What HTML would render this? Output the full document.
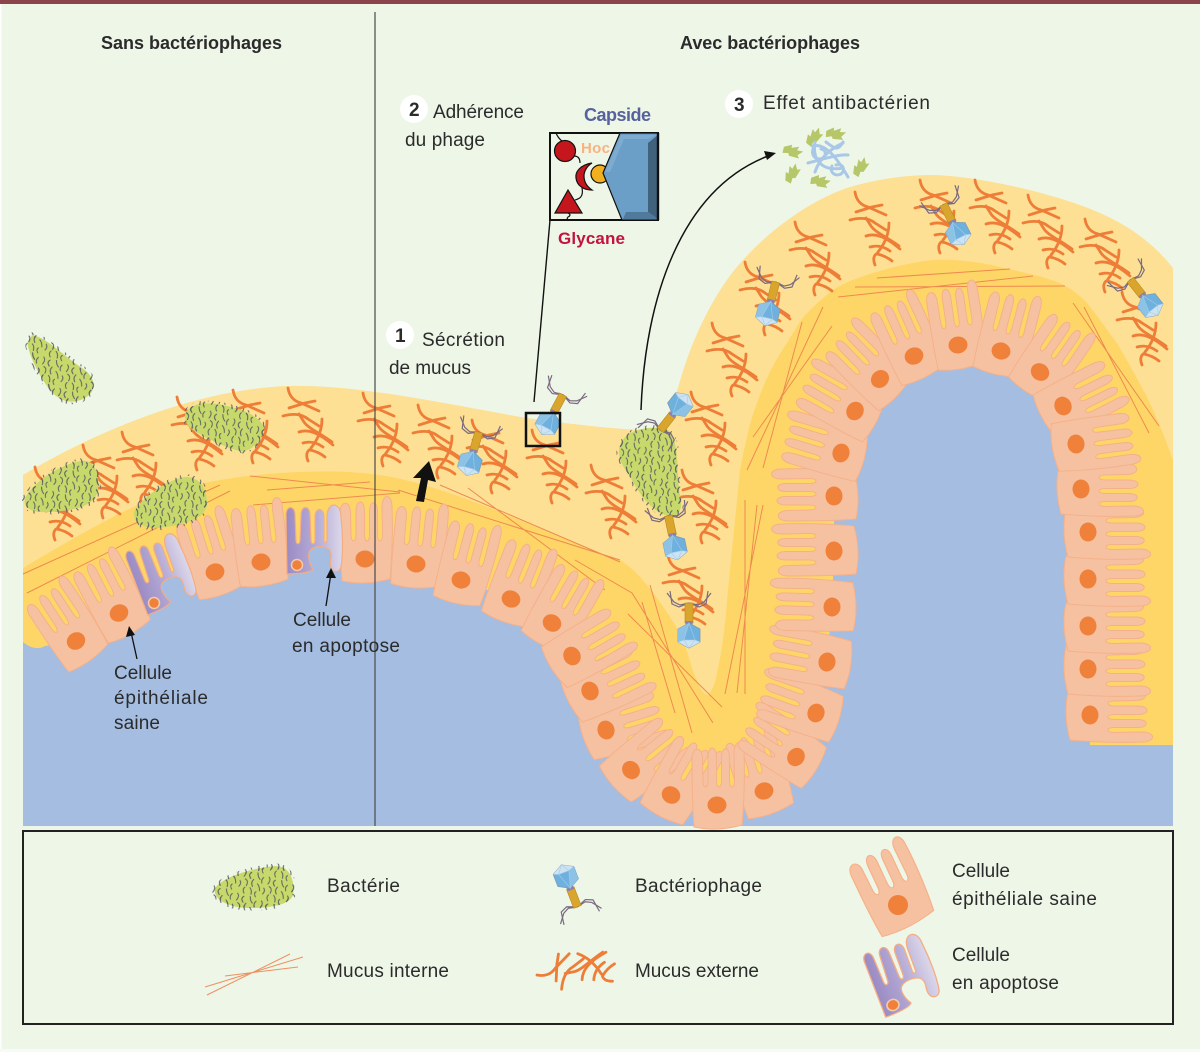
<!DOCTYPE html>
<html lang="fr">
<head>
<meta charset="utf-8">
<title>Bactériophages et mucus</title>
<style>
html,body{margin:0;padding:0;background:#eef6e8}
svg{display:block}
text{font-family:"Liberation Sans",sans-serif;fill:#2b2b2b;font-size:19px}
.b{font-weight:bold;font-size:18px}
</style>
</head>
<body>
<svg width="1200" height="1052" viewBox="0 0 1200 1052" xmlns="http://www.w3.org/2000/svg">
<defs>
  <linearGradient id="apo" x1="0" x2="1" y1="0" y2="0">
    <stop offset="0" stop-color="#9a8bc4"/><stop offset=".55" stop-color="#b6acd6"/><stop offset="1" stop-color="#dcd8ea"/>
  </linearGradient>
  <pattern id="hair" width="25" height="25" patternUnits="userSpaceOnUse" patternTransform="rotate(18)">
    <g fill="none" stroke="#5a5f5e" stroke-width="1" stroke-linecap="round">
      <path d="M2 1q3 2 1 7"/><path d="M9 2q-3 3 1 6"/><path d="M15 0q1 4 4 6"/><path d="M22 3q-2 3 0 6"/>
      <path d="M5 10q4 1 3 6"/><path d="M13 8q-2 4 1 7"/><path d="M18 11q3 2 4 6"/><path d="M0 13q3 2 1 6"/>
      <path d="M7 18q-2 3 1 6"/><path d="M12 17q3 2 3 6"/><path d="M19 19q-2 2 1 5"/>
    </g>
  </pattern>
  <path id="cellp" d="M-23 22C-25 0-25-30-25-46C-25-59-14.500-59-14.500-46L-14-24C-14-16-9-16-9-24L-9-48C-9-60-.5-60-.5-48L-.5-24C-.5-16 4.500-16 4.500-24L4.500-48C4.500-59 12.500-59 12.500-48L12.500-24C12.500-16 17.500-16 17.500-24L17-52C17-66 27-66 27-52C28-30 27 0 25 20Q0 27-23 22Z" fill="#f6c1a1" stroke="#f5b189" stroke-width="1"/>
  <g id="cell">
    <use href="#cellp"/>
    <ellipse rx="9.500" ry="8.500" fill="#ef813b"/>
  </g>
  <g id="apop">
    <path d="M-10 9L-11-50C-11-60-2-60-2-50L-1-25C-1-20 3-20 3-25L4-50C4-60 13-60 13-50L14-25C14-20 18-20 18-25L18-48C18-58 27-58 27-48L27-25C27-22 30-22 30-25L30-48C30-64 44-64 44-48C46-30 46-10 44 2C42 8 36 8 34 2C32-4 36-8 33-14C30-20 14-20 12-12C11-8 13 0 16 4C14 8 0 9-10 9Z" fill="url(#apo)" stroke="#f4ad82" stroke-width="1.200"/>
    <circle r="5.500" fill="#ef813b" stroke="#f6c9a8" stroke-width="1.500"/>
  </g>
  <g id="muc" fill="none" stroke="#ee7d38" stroke-width="2.800" stroke-linecap="round">
    <path d="M0 0C1 7 5 13 13 15L31 23"/>
    <path d="M1 20L17 15L27 13"/>
    <path d="M-5 28C6 25 14 26 20 31L31 38"/>
    <path d="M11 26L16 34C20 40 30 44 44 54"/>
    <path d="M34 31C34 40 31 50 23 60"/>
    <path d="M11 44C20 41 30 44 45 57"/>
    <path d="M15 55C22 53 28 54 35 59"/>
    <path d="M23 61C18 63 18 68 20 73"/>
    <path d="M22 62C27 63 32 65 37 69"/>
  </g>
  <g id="phage">
    <g fill="none" stroke="#7a6a80" stroke-width="1.200">
      <path d="M0-32L-10-28L-17-31L-19-44"/><path d="M0-32L-9-30L-15-33L-22-42"/>
      <path d="M0-32L10-28L17-31L19-44"/><path d="M0-32L9-30L15-33L22-42"/>
    </g>
    <rect x="-4" y="-32" width="8" height="20" fill="#d9a52c" stroke="#b88a22" stroke-width=".6"/>
    <rect x="-3.500" y="-14" width="7" height="4" fill="#8f7fb0"/>
    <polygon points="0,-12 11,-6 11,7 0,13 -11,7 -11,-6" fill="#6fb1de" stroke="#7c9cb6" stroke-width=".8"/>
    <polygon points="0,-12 -11,-6 -11,7 -5,5" fill="#8cc2e6"/>
    <polygon points="-5,5 6,5 11,7 0,13 -11,7" fill="#cde3f3"/>
    <path d="M0-12L-5 5L6 5ZM-5 5L-11 7M6 5L11 7M0 13L-5 5M0 13L6 5" fill="none" stroke="#a5cbe6" stroke-width=".6"/>
  </g>
  <g id="shard"><path d="M0 2L6-4L7-1L13-6L13-2L19-4L16 2L19 4L9 7L7 5L2 8Z" fill="#b5c768"/></g>
</defs>

<rect width="1200" height="1052" fill="#eef6e8"/>
<rect width="1200" height="4" fill="#8b444b"/>
<rect x="0" y="4" width="1.500" height="1048" fill="#fff"/>
<rect x="0" y="1049" width="1200" height="3" fill="#f8fbf5"/>

<!-- Outer mucus -->
<path fill="#fde094" d="M23 475C90 435 190 390 287 386C360 384 450 405 527 418C570 424 620 430 650 430C670 425 675 395 685 365C695 335 715 290 743 260C770 230 810 200 850 187C880 178 910 175 933 175C980 176 1060 195 1100 213C1130 226 1155 245 1173 268L1173 826L23 826Z"/>
<!-- Inner mucus -->
<path fill="#fed668" d="M23 568C70 540 130 505 167 493C200 481 250 474 300 472C340 470 380 472 420 484C480 500 550 535 620 560C640 572 660 600 680 633C688 650 692 672 697 680C700 690 705 695 708 695C713 690 716 680 717 673C722 650 726 620 727 600L731 560L740 470C745 445 750 420 757 403C765 380 775 360 787 343C795 330 800 320 807 313C815 305 825 296 833 290C845 282 860 277 873 273C895 266 915 262 933 260C955 259 980 262 1000 267C1020 272 1040 275 1060 283C1070 288 1080 295 1087 303C1097 315 1107 330 1117 343C1127 360 1137 378 1147 397C1157 418 1166 440 1173 460L1173 826L23 826Z"/>

<!-- Blue lumen -->
<path fill="#a4bde1" d="M23 642C30 648 38 650 45 646L76 641L119 613L154 600L215 572L261 562L297 562L365 559L416 564L461 580L511 599L552 623L571 655L590 691L606 729L630 770L671 795L717 805L764 791L795 757L816 712L826 662L832 612L834 551L834 496L841 452L855 411L880 379L914 356L958 345L1001 351L1040 372L1063 406L1076 444L1081 489L1088 532L1088 579L1088 626L1088 669L1090 715L1090 745L1173 745L1173 826L23 826Z"/>
<rect x="10" y="-18" width="30" height="30" fill="#a4bde1" transform="translate(154 603) rotate(-20)"/>
<rect x="10" y="-18" width="30" height="30" fill="#a4bde1" transform="translate(297 565)"/>

<!-- Internal mucus lines -->
<g stroke="#ee8a4f" stroke-width="1" fill="none">
  <path d="M23 574L220 485M27 593L230 491M250 476L400 492M267 490L370 482M253 505L400 493"/>
  <path d="M398 490L620 560M440 485L620 562M468 488L605 590"/>
  <path d="M575 560L632 593L713 723M650 585L692 733M642 602L675 713M628 614L722 707"/>
  <path d="M763 505L725 694M757 505L737 693M745 500L745 694"/>
  <path d="M877 278L1010 269M855 287L1065 286M838 297L1033 276M802 322L763 468M823 307L747 470M832 326L753 437M1073 303L1159 426M1084 307L1149 433"/>
</g>

<!-- Cells -->
<g>
  <use href="#cell" transform="translate(76 641) rotate(-33)"/>
  <use href="#cell" transform="translate(119 613) rotate(-27)"/>
  <use href="#cell" transform="translate(215 572) rotate(-17)"/>
  <use href="#cell" transform="translate(261 562) rotate(-6)"/>
  <use href="#cell" transform="translate(365 559)"/>
  <use href="#cell" transform="translate(416 564) rotate(6)"/>
  <use href="#cell" transform="translate(461 580) rotate(15)"/>
  <use href="#cell" transform="translate(511 599) rotate(22)"/>
  <use href="#cell" transform="translate(552 623) rotate(30)"/>
  <use href="#cell" transform="translate(606 730) rotate(73)"/>
  <use href="#cell" transform="translate(631 770) rotate(51)"/>
  <use href="#cell" transform="translate(671 795) rotate(30)"/>
  <use href="#cell" transform="translate(764 791) rotate(-17)"/>
  <use href="#cell" transform="translate(717 805)"/>
  <use href="#cell" transform="translate(796 757) rotate(-56)"/>
  <use href="#cell" transform="translate(816 713) rotate(-70)"/>
  <use href="#cell" transform="translate(827 662) rotate(-79)"/>
  <use href="#cell" transform="translate(832 607) rotate(-88)"/>
  <use href="#cell" transform="translate(834 551) rotate(-90)"/>
  <use href="#cell" transform="translate(834 496) rotate(-90)"/>
  <use href="#cell" transform="translate(841 453) rotate(-73)"/>
  <use href="#cell" transform="translate(855 411) rotate(-60)"/>
  <use href="#cell" transform="translate(880 379) rotate(-44)"/>
  <use href="#cell" transform="translate(914 356) rotate(-24)"/>
  <use href="#cell" transform="translate(958 345) rotate(-8)"/>
  <use href="#cell" transform="translate(1001 351) rotate(15)"/>
  <use href="#cell" transform="translate(1040 372) rotate(35)"/>
  <use href="#cell" transform="translate(1063 406) rotate(64)"/>
  <use href="#cell" transform="translate(1090 715) rotate(90)"/>
  <use href="#cell" transform="translate(1088 669) rotate(90)"/>
  <use href="#cell" transform="translate(1088 626) rotate(90)"/>
  <use href="#cell" transform="translate(1088 579) rotate(90)"/>
  <use href="#cell" transform="translate(1088 532) rotate(90)"/>
  <use href="#cell" transform="translate(1081 489) rotate(90)"/>
  <use href="#cell" transform="translate(1076 444) rotate(83)"/>
  <use href="#cell" transform="translate(590 691) rotate(65)"/>
  <use href="#cell" transform="translate(572 656) rotate(60)"/>
  <use href="#apop" transform="translate(154 603) rotate(-20)"/>
  <use href="#apop" transform="translate(297 565)"/>
</g>

<!-- External mucus -->
<g>
  <use href="#muc" x="35" y="467"/><use href="#muc" x="83" y="445"/><use href="#muc" x="122" y="432"/>
  <use href="#muc" x="177" y="397"/><use href="#muc" x="233" y="390"/><use href="#muc" x="288" y="388"/>
  <use href="#muc" x="363" y="393"/><use href="#muc" x="418" y="405"/><use href="#muc" x="472" y="420"/>
  <use href="#muc" x="532" y="430"/><use href="#muc" x="591" y="465"/><use href="#muc" x="682" y="470"/>
  <use href="#muc" x="668" y="555"/><use href="#muc" x="691" y="392"/><use href="#muc" x="712" y="323"/>
  <use href="#muc" x="745" y="262"/><use href="#muc" x="795" y="222"/><use href="#muc" x="855" y="192"/>
  <use href="#muc" x="920" y="180"/><use href="#muc" x="975" y="180"/><use href="#muc" x="1028" y="195"/>
  <use href="#muc" x="1085" y="219"/><use href="#muc" x="1122" y="292"/>
</g>

<!-- Bacteria -->
<g fill="#c8d96c">
  <path d="M32 335C48 338 62 355 85 370C97 380 96 392 85 398C72 405 60 402 50 390C40 378 26 350 28 342Z"/>
  <path d="M186 412C195 400 215 402 235 408C250 412 262 420 264 428C262 440 252 452 240 451C225 448 200 435 190 428C185 422 184 416 186 412Z"/>
  <path d="M25 498C35 480 60 465 80 461C95 458 100 475 98 490C95 505 80 510 50 512C35 513 22 510 25 498Z"/>
  <path d="M134 512C140 500 165 480 185 477C200 476 208 490 207 505C205 518 185 525 165 527C148 530 132 525 134 512Z"/>
  <path d="M620 445C625 430 650 424 668 430C680 440 676 470 680 495C684 510 678 518 668 516C652 512 640 495 632 480C624 468 616 458 620 445Z"/>
  <path d="M215 888C225 875 255 868 275 866C290 866 295 880 293 895C290 905 270 908 250 908C230 908 212 900 215 888Z"/>
</g>
<g fill="url(#hair)" stroke="url(#hair)" stroke-width="5">
  <path d="M32 335C48 338 62 355 85 370C97 380 96 392 85 398C72 405 60 402 50 390C40 378 26 350 28 342Z"/>
  <path d="M186 412C195 400 215 402 235 408C250 412 262 420 264 428C262 440 252 452 240 451C225 448 200 435 190 428C185 422 184 416 186 412Z"/>
  <path d="M25 498C35 480 60 465 80 461C95 458 100 475 98 490C95 505 80 510 50 512C35 513 22 510 25 498Z"/>
  <path d="M134 512C140 500 165 480 185 477C200 476 208 490 207 505C205 518 185 525 165 527C148 530 132 525 134 512Z"/>
  <path d="M620 445C625 430 650 424 668 430C680 440 676 470 680 495C684 510 678 518 668 516C652 512 640 495 632 480C624 468 616 458 620 445Z"/>
  <path d="M215 888C225 875 255 868 275 866C290 866 295 880 293 895C290 905 270 908 250 908C230 908 212 900 215 888Z"/>
</g>

<!-- Phages -->
<use href="#phage" transform="translate(470 463) rotate(16)"/>
<use href="#phage" transform="translate(548 423) rotate(28)"/>
<use href="#phage" transform="translate(680 405) rotate(-142)"/>
<use href="#phage" transform="translate(675 547) rotate(-12)"/>
<use href="#phage" transform="translate(689 635)"/>
<use href="#phage" transform="translate(768 313) rotate(14)"/>
<use href="#phage" transform="translate(958 233) rotate(-27)"/>
<use href="#phage" transform="translate(1150 305) rotate(-38)"/>
<use href="#phage" transform="translate(566 877) rotate(159)"/>

<!-- Divider -->
<line x1="375" y1="12" x2="375" y2="826" stroke="#4a4a4a" stroke-width="1.200"/>

<!-- Inset -->
<rect x="550" y="133" width="108" height="87" fill="#eef6e8" stroke="#111" stroke-width="2"/>
<g fill="none" stroke="#111" stroke-width="1.200">
  <path d="M556 133Q558 138 562 141"/>
  <path d="M574 156Q580 156 580 163"/>
  <path d="M582 188C584 198 578 199 575 200"/>
  <path d="M568 213Q572 215 568 217Q566 219 569 220"/>
</g>
<circle cx="600" cy="174" r="9" fill="#f0b020" stroke="#111" stroke-width="1.200"/>
<circle cx="565" cy="151" r="10.500" fill="#c5161d" stroke="#111" stroke-width="1.200"/>
<path d="M592 163C580 165 575 172 576 178C577 186 584 190 592 190C586 186 584 181 584 176C584 171 587 166 592 163Z" fill="#c5161d" stroke="#111" stroke-width="1.200"/>
<polygon points="568,190 555,213 582,213" fill="#c5161d" stroke="#111" stroke-width="1.200"/>
<polygon points="603,173 620,133 658,133 658,220 622,220" fill="#6c9fc8" stroke="#111" stroke-width="1.200"/>
<polygon points="648,143 658,135 658,219 648,212" fill="#40627c"/>
<polygon points="626,212 648,212 658,219 623,219" fill="#4f7a9c"/>
<polygon points="605,172 621,135 656,135 648,139 624,139 610,172" fill="#7eacd0"/>
<line x1="658" y1="133" x2="658" y2="220" stroke="#111" stroke-width="2.400"/>
<text class="b" x="584" y="121" textLength="67" lengthAdjust="spacing" style="fill:#57629d">Capside</text>
<text class="b" x="581" y="153" textLength="29" lengthAdjust="spacing" style="fill:#f8b27f;font-size:15px">Hoc</text>
<text class="b" x="558" y="244" textLength="67" lengthAdjust="spacing" style="fill:#c2123e;font-size:17px">Glycane</text>
<line x1="550" y1="220" x2="534" y2="402" stroke="#111" stroke-width="1.400"/>
<rect x="526" y="413" width="34" height="33" fill="none" stroke="#111" stroke-width="2.500"/>

<!-- Curved arrow -->
<path d="M641 410C645 300 680 190 768 156" fill="none" stroke="#111" stroke-width="1.500"/>
<polygon points="776,153 764,151 767,160" fill="#111"/>

<!-- Lysed bacterium -->
<g>
  <use href="#shard" transform="translate(805 141) rotate(-32)"/>
  <use href="#shard" transform="translate(827 129) rotate(22)"/>
  <use href="#shard" transform="translate(785 145) rotate(32)"/>
  <use href="#shard" transform="translate(784 179) rotate(-42)"/>
  <use href="#shard" transform="translate(812 176) rotate(26)"/>
  <use href="#shard" transform="translate(852 172) rotate(-38)"/>
</g>
<g fill="none" stroke="#a9c8e8" stroke-width="3" stroke-linecap="round">
  <path d="M815 146C810 152 813 159 820 159C827 158 827 150 821 149"/>
  <path d="M832 166C829 172 835 177 841 174C846 170 843 163 836 165"/>
  <path d="M812 146C826 142 838 160 848 177"/>
  <path d="M808 163C820 160 838 154 848 155"/>
  <path d="M815 172C819 160 828 150 843 143"/>
  <path d="M815 142C812 160 822 172 843 168"/>
  <path d="M826 142C834 148 838 152 843 142"/>
</g>

<!-- Thick up arrow -->
<path d="M416 501L421 478L413 478L429 461L436 482L428 480L424 502Z" fill="#111"/>

<!-- Thin pointers -->
<g stroke="#111" stroke-width="1.300" fill="#111">
  <line x1="137" y1="659" x2="131" y2="632"/>
  <polygon points="129,626 126,637 135,635" stroke="none"/>
  <line x1="326" y1="606" x2="331" y2="573"/>
  <polygon points="331,568 326,578 336,578" stroke="none"/>
</g>

<!-- Number badges -->
<circle cx="414" cy="109" r="14" fill="#fff"/><text class="b" x="409" y="116" style="font-size:19px">2</text>
<circle cx="400" cy="335" r="14" fill="#fff"/><text class="b" x="395" y="342" style="font-size:19px">1</text>
<circle cx="739" cy="104" r="14" fill="#fff"/><text class="b" x="734" y="111" style="font-size:19px">3</text>

<!-- Labels -->
<text class="b" x="101" y="49" textLength="181" lengthAdjust="spacing">Sans bactériophages</text>
<text class="b" x="680" y="49" textLength="180" lengthAdjust="spacing">Avec bactériophages</text>
<text x="433" y="118" textLength="91" lengthAdjust="spacing">Adhérence</text>
<text x="405" y="146" textLength="80" lengthAdjust="spacing">du phage</text>
<text x="763" y="109" textLength="167" lengthAdjust="spacing">Effet antibactérien</text>
<text x="422" y="346" textLength="83" lengthAdjust="spacing">Sécrétion</text>
<text x="389" y="374" textLength="82" lengthAdjust="spacing">de mucus</text>
<text x="114" y="679" textLength="58" lengthAdjust="spacing">Cellule</text>
<text x="114" y="704" textLength="94" lengthAdjust="spacing">épithéliale</text>
<text x="114" y="729" textLength="46" lengthAdjust="spacing">saine</text>
<text x="293" y="626" textLength="58" lengthAdjust="spacing">Cellule</text>
<text x="292" y="652" textLength="108" lengthAdjust="spacing">en apoptose</text>

<!-- Legend -->
<rect x="23" y="831" width="1150" height="193" fill="none" stroke="#222" stroke-width="2"/>
<text x="327" y="892" textLength="73" lengthAdjust="spacing">Bactérie</text>
<text x="635" y="892" textLength="127" lengthAdjust="spacing">Bactériophage</text>
<text x="327" y="977" textLength="122" lengthAdjust="spacing">Mucus interne</text>
<text x="635" y="977" textLength="124" lengthAdjust="spacing">Mucus externe</text>
<text x="952" y="877" textLength="58" lengthAdjust="spacing">Cellule</text>
<text x="952" y="905" textLength="145" lengthAdjust="spacing">épithéliale saine</text>
<text x="952" y="961" textLength="58" lengthAdjust="spacing">Cellule</text>
<text x="952" y="989" textLength="107" lengthAdjust="spacing">en apoptose</text>
<g stroke="#ee9060" stroke-width="1" fill="none">
  <path d="M205 987L303 957M207 995L290 954M225 976L298 967"/>
</g>
<use href="#muc" transform="translate(537 975) rotate(-70)"/>
<use href="#cellp" transform="translate(898 905) rotate(-25) scale(1.200 1)"/>
<circle cx="898" cy="905" r="10" fill="#ef813b"/>
<use href="#apop" transform="translate(893 1005) rotate(-20) scale(1.100 1)"/>
</svg>
</body>
</html>
